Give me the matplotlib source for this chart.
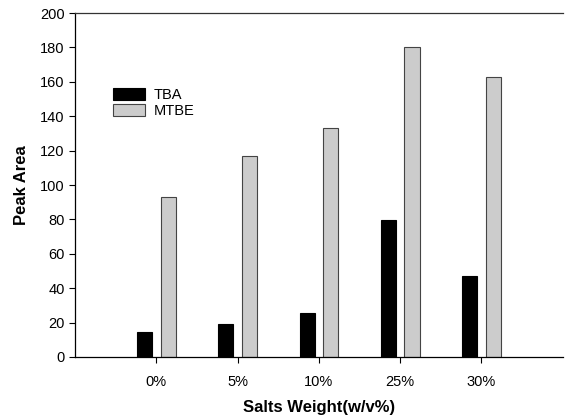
import numpy as np
import matplotlib
matplotlib.use('Agg')
import matplotlib.pyplot as plt

plt.rcParams['font.family'] = ['Liberation Sans', 'DejaVu Sans']

# data
categories = ['0%', '5%', '10%', '25%', '30%']
tba = [14.7, 19, 25.4, 79.6, 47.3]
mtbe = [93.3, 116.8, 133.3, 180.4, 162.6]

fig = plt.figure(figsize=(5.65, 4.2), dpi=100)
ax = fig.add_axes([0.133, 0.15, 0.863, 0.819])

x = np.arange(1, len(categories) + 1)
w = 0.185
ax.bar(x - 0.145, tba, w, color='black', edgecolor='black', linewidth=0.8, label='TBA')
ax.bar(x + 0.145, mtbe, w, color='#cccccc', edgecolor='#444444', linewidth=0.8, label='MTBE')

ax.set_xlim(0, 6)
ax.set_ylim(0, 200)
ax.set_yticks(np.arange(0, 201, 20))
ax.set_xticks(x)
ax.set_xticklabels(categories)
ax.tick_params(axis='both', labelsize=10.5, direction='out', length=4, width=0.8)
ax.tick_params(axis='x', pad=9)

ax.spines['right'].set_visible(False)
ax.spines['top'].set_color('#333333')
for s in ['left', 'bottom', 'top']:
    ax.spines[s].set_linewidth(0.9)

ax.set_xlabel('Salts Weight(w/v%)', fontsize=12, fontweight='bold', labelpad=8)
ax.set_ylabel('Peak Area', fontsize=12, fontweight='bold', labelpad=8)

ax.legend(loc='upper left', bbox_to_anchor=(0.05, 0.82), frameon=False, fontsize=10.5,
          handlelength=2.2, handleheight=0.9, labelspacing=0.15, handletextpad=0.6)

fig.savefig('out.png', dpi=100)
